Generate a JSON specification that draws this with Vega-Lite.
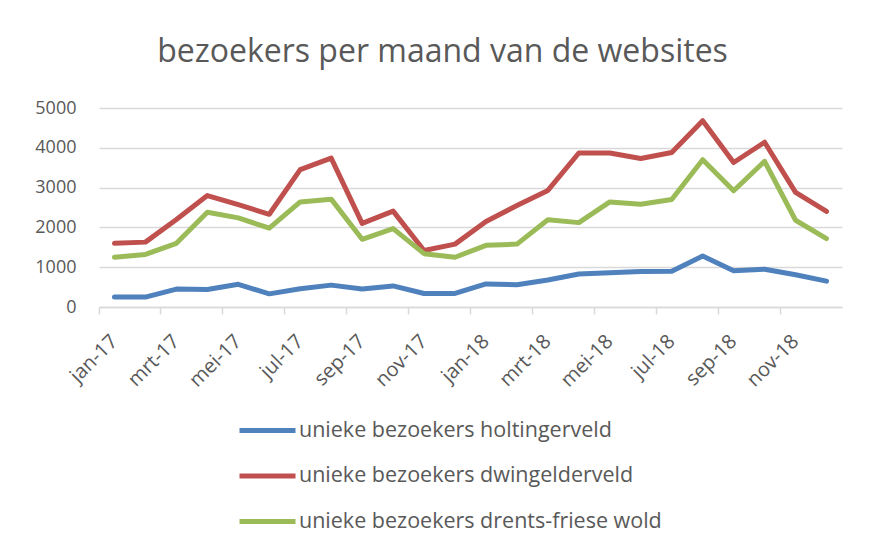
{
  "$schema": "https://vega.github.io/schema/vega-lite/v6.json",
  "autosize": "none",
  "width": 743,
  "height": 199,
  "padding": {"left": 99, "top": 108, "right": 30, "bottom": 240},
  "background": "white",
  "title": {
    "text": "bezoekers per maand van de websites",
    "font": "Open Sans",
    "fontSize": 32,
    "fontWeight": "normal",
    "color": "#595959",
    "anchor": "middle",
    "dx": -28,
    "offset": 30
  },
  "data": {
    "values": [
      {"maand": "jan-17", "unieke bezoekers holtingerveld": 250, "unieke bezoekers dwingelderveld": 1600, "unieke bezoekers drents-friese wold": 1250},
      {"maand": "feb-17", "unieke bezoekers holtingerveld": 250, "unieke bezoekers dwingelderveld": 1630, "unieke bezoekers drents-friese wold": 1320},
      {"maand": "mrt-17", "unieke bezoekers holtingerveld": 450, "unieke bezoekers dwingelderveld": 2200, "unieke bezoekers drents-friese wold": 1600},
      {"maand": "apr-17", "unieke bezoekers holtingerveld": 440, "unieke bezoekers dwingelderveld": 2800, "unieke bezoekers drents-friese wold": 2380},
      {"maand": "mei-17", "unieke bezoekers holtingerveld": 570, "unieke bezoekers dwingelderveld": 2570, "unieke bezoekers drents-friese wold": 2240},
      {"maand": "jun-17", "unieke bezoekers holtingerveld": 330, "unieke bezoekers dwingelderveld": 2330, "unieke bezoekers drents-friese wold": 1980},
      {"maand": "jul-17", "unieke bezoekers holtingerveld": 460, "unieke bezoekers dwingelderveld": 3450, "unieke bezoekers drents-friese wold": 2640},
      {"maand": "aug-17", "unieke bezoekers holtingerveld": 550, "unieke bezoekers dwingelderveld": 3740, "unieke bezoekers drents-friese wold": 2710},
      {"maand": "sep-17", "unieke bezoekers holtingerveld": 450, "unieke bezoekers dwingelderveld": 2100, "unieke bezoekers drents-friese wold": 1700},
      {"maand": "okt-17", "unieke bezoekers holtingerveld": 530, "unieke bezoekers dwingelderveld": 2410, "unieke bezoekers drents-friese wold": 1970},
      {"maand": "nov-17", "unieke bezoekers holtingerveld": 340, "unieke bezoekers dwingelderveld": 1420, "unieke bezoekers drents-friese wold": 1340},
      {"maand": "dec-17", "unieke bezoekers holtingerveld": 340, "unieke bezoekers dwingelderveld": 1580, "unieke bezoekers drents-friese wold": 1250},
      {"maand": "jan-18", "unieke bezoekers holtingerveld": 580, "unieke bezoekers dwingelderveld": 2150, "unieke bezoekers drents-friese wold": 1550},
      {"maand": "feb-18", "unieke bezoekers holtingerveld": 560, "unieke bezoekers dwingelderveld": 2550, "unieke bezoekers drents-friese wold": 1580},
      {"maand": "mrt-18", "unieke bezoekers holtingerveld": 680, "unieke bezoekers dwingelderveld": 2930, "unieke bezoekers drents-friese wold": 2190},
      {"maand": "apr-18", "unieke bezoekers holtingerveld": 830, "unieke bezoekers dwingelderveld": 3870, "unieke bezoekers drents-friese wold": 2120},
      {"maand": "mei-18", "unieke bezoekers holtingerveld": 860, "unieke bezoekers dwingelderveld": 3870, "unieke bezoekers drents-friese wold": 2640},
      {"maand": "jun-18", "unieke bezoekers holtingerveld": 890, "unieke bezoekers dwingelderveld": 3730, "unieke bezoekers drents-friese wold": 2580},
      {"maand": "jul-18", "unieke bezoekers holtingerveld": 900, "unieke bezoekers dwingelderveld": 3880, "unieke bezoekers drents-friese wold": 2700},
      {"maand": "aug-18", "unieke bezoekers holtingerveld": 1280, "unieke bezoekers dwingelderveld": 4680, "unieke bezoekers drents-friese wold": 3700},
      {"maand": "sep-18", "unieke bezoekers holtingerveld": 910, "unieke bezoekers dwingelderveld": 3630, "unieke bezoekers drents-friese wold": 2920},
      {"maand": "okt-18", "unieke bezoekers holtingerveld": 950, "unieke bezoekers dwingelderveld": 4140, "unieke bezoekers drents-friese wold": 3660},
      {"maand": "nov-18", "unieke bezoekers holtingerveld": 810, "unieke bezoekers dwingelderveld": 2880, "unieke bezoekers drents-friese wold": 2180},
      {"maand": "dec-18", "unieke bezoekers holtingerveld": 650, "unieke bezoekers dwingelderveld": 2400, "unieke bezoekers drents-friese wold": 1720}
    ]
  },
  "transform": [
    {"fold": ["unieke bezoekers holtingerveld", "unieke bezoekers dwingelderveld", "unieke bezoekers drents-friese wold"], "as": ["reeks", "bezoekers"]}
  ],
  "mark": {"type": "line", "strokeWidth": 5, "strokeCap": "round", "strokeJoin": "round"},
  "encoding": {
    "x": {
      "field": "maand",
      "type": "ordinal",
      "sort": null,
      "scale": {"type": "band", "paddingInner": 0, "paddingOuter": 0},
      "axis": {
        "title": null,
        "values": ["jan-17", "mrt-17", "mei-17", "jul-17", "sep-17", "nov-17", "jan-18", "mrt-18", "mei-18", "jul-18", "sep-18", "nov-18"],
        "bandPosition": 0,
        "grid": false,
        "domainColor": "#d9d9d9",
        "domainWidth": 1.5,
        "tickColor": "#d9d9d9",
        "tickWidth": 1.5,
        "tickSize": 7,
        "labelAngle": -45,
        "labelAlign": "right",
        "labelBaseline": "middle",
        "labelPadding": 24,
        "labelFont": "Open Sans",
        "labelFontSize": 20,
        "labelColor": "#595959"
      }
    },
    "y": {
      "field": "bezoekers",
      "type": "quantitative",
      "scale": {"domain": [0, 5000], "nice": false},
      "axis": {
        "title": null,
        "values": [0, 1000, 2000, 3000, 4000, 5000],
        "format": "d",
        "ticks": false,
        "domain": false,
        "gridColor": "#d9d9d9",
        "gridWidth": 1.5,
        "labelPadding": 23,
        "labelFont": "Open Sans",
        "labelFontSize": 18,
        "labelColor": "#595959"
      }
    },
    "color": {
      "field": "reeks",
      "type": "nominal",
      "scale": {
        "domain": ["unieke bezoekers holtingerveld", "unieke bezoekers dwingelderveld", "unieke bezoekers drents-friese wold"],
        "range": ["#4f81bd", "#c0504d", "#9bbb59"]
      },
      "legend": {
        "title": null,
        "orient": "none",
        "legendX": 138,
        "legendY": 292,
        "direction": "vertical",
        "symbolType": "stroke",
        "symbolSize": 3136,
        "symbolStrokeWidth": 5,
        "labelFont": "Open Sans",
        "labelFontSize": 21.5,
        "labelColor": "#595959",
        "labelOffset": 1,
        "labelLimit": 500,
        "rowPadding": 4.5
      }
    }
  },
  "config": {
    "view": {"stroke": null}
  }
}
